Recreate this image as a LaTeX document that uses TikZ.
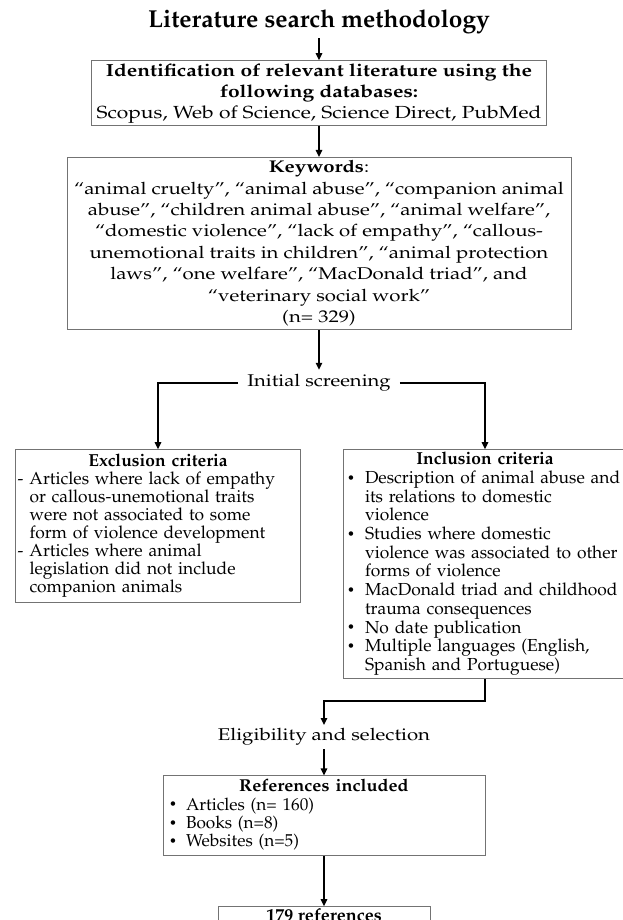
\documentclass[tikz,border=0pt]{standalone}
\usepackage[T1]{fontenc}
\usepackage{mathpazo}
\usepackage{graphicx}
\usepackage{tikz}
\usetikzlibrary{arrows.meta, positioning}
\tikzstyle{box} = [rectangle, draw=black!55, line width=0.8pt, align=center, inner xsep=3pt, inner ysep=1pt, font=\fontsize{17.4}{21}\selectfont]
\tikzstyle{crit} = [box, align=left]
\tikzstyle{stage} = [inner xsep=9pt, inner ysep=0pt, minimum height=26pt, font=\fontsize{17}{21}\selectfont]
\tikzstyle{arrow} = [line width=1.3pt, ->, >={Triangle[length=7pt,width=6.5pt]}]
% horizontally widened text, as in the source figure
\newcommand{\widen}[2]{\scalebox{#1}[1]{#2}}
\newcommand{\dotitem}{\raisebox{1.2pt}{\fontsize{13}{13}\selectfont\textbullet}}

\begin{document}
\begin{tikzpicture}[x=1pt, y=1pt, node distance=20pt]
  \useasboundingbox (0,0) rectangle (623,-920);
  \node[font=\fontsize{24.5}{26}\selectfont\bfseries, minimum height=32pt, inner sep=0pt] (title) at (319,-22) {Literature search methodology};
  \node[box, minimum width=455pt, minimum height=65pt, inner ysep=0pt, below=22pt of title, font=\fontsize{17.5}{21}\selectfont] (ident) {\widen{1.2}{\begin{tabular}{@{}c@{}}
    \textbf{Identification of relevant literature using the}\\
    \textbf{following databases:}\\
    Scopus, Web of Science, Science Direct, PubMed
  \end{tabular}}};
  \node[box, minimum width=504pt, minimum height=172pt, inner ysep=0pt, below=31pt of ident, font=\fontsize{17}{21.4}\selectfont] (kw) {\widen{1.2}{\begin{tabular}{@{}c@{}}
    \textbf{Keywords}:\\
    ``animal cruelty'', ``animal abuse'', ``companion animal\\
    abuse'', ``children animal abuse'', ``animal welfare'',\\
    ``domestic violence'', ``lack of empathy'', ``callous-\\
    unemotional traits in children'', ``animal protection\\
    laws'', ``one welfare'', ``MacDonald triad'', and\\
    ``veterinary social work''\\
    (n= 329)
  \end{tabular}}};
  \node[stage, below=40pt of kw] (scr) {\widen{1.19}{Initial screening}};
  \node[crit, text width=281pt, inner xsep=2pt, minimum height=153pt, below=53pt of scr, xshift=-161pt, font=\fontsize{17.4}{17.9}\selectfont] (excl) {{\centering\textbf{Exclusion criteria}\par}
    \begin{tabular}[t]{@{}p{12pt}@{}l@{}}
      - & Articles where lack of empathy\\
        & or callous-unemotional traits\\
        & were not associated to some\\
        & form of violence development\\
      - & Articles where animal\\
        & legislation did not include\\
        & companion animals
    \end{tabular}};
  \node[crit, text width=276pt, inner xsep=4pt, minimum height=229pt, below=53pt of scr, xshift=166pt, font=\fontsize{17.4}{18.7}\selectfont] (incl) {{\centering\textbf{Inclusion criteria}\par}
    \begin{tabular}[t]{@{}p{18pt}@{}l@{}}
      \dotitem & Description of animal abuse and\\
               & its relations to domestic\\
               & violence\\
      \dotitem & Studies where domestic\\
               & violence was associated to other\\
               & forms of violence\\
      \dotitem & MacDonald triad and childhood\\
               & trauma consequences\\
      \dotitem & No date publication\\
      \dotitem & Multiple languages (English,\\
               & Spanish and Portuguese)
    \end{tabular}};
  \node[stage, minimum height=24pt, below=46pt of incl, xshift=-161pt] (eli) {\widen{1.2}{Eligibility and selection}};
  \node[crit, text width=310pt, inner xsep=6pt, minimum height=80pt, below=26pt of eli, font=\fontsize{17.2}{18.3}\selectfont] (refs) {{\centering\widen{1.05}{\textbf{References included}}\par}
    \begin{tabular}[t]{@{}p{17pt}@{}l@{}}
      \dotitem & Articles (n= 160)\\
      \dotitem & Books (n=8)\\
      \dotitem & Websites (n=5)
    \end{tabular}};
  \node[box, minimum width=212pt, inner ysep=2pt, below=50pt of refs, font=\fontsize{18}{21}\selectfont] (fin) {\textbf{179 references}};

  \draw[arrow] (title) -- (ident);
  \draw[arrow] (ident) -- (kw);
  \draw[arrow] (kw) -- (scr);
  \draw[arrow] (scr.west) -| (excl.north);
  \draw[arrow] (scr.east) -| (incl.north);
  \draw[arrow] (incl.south) -- ++(0,-22) -| (eli.north);
  \draw[arrow] (eli) -- (refs);
  \draw[arrow] (refs) -- (fin);
\end{tikzpicture}
\end{document}
